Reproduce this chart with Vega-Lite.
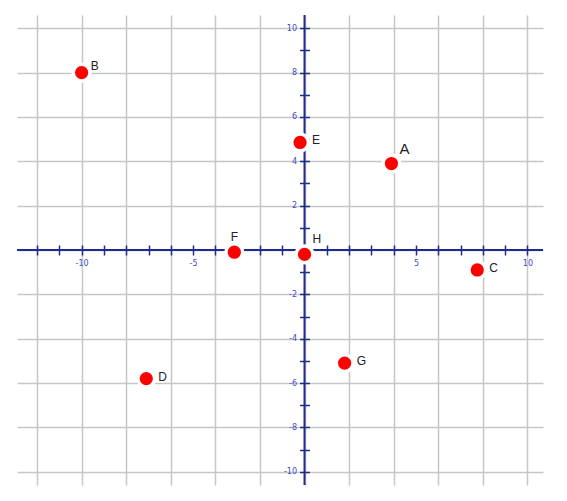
{
  "$schema": "https://vega.github.io/schema/vega-lite/v6.json",
  "width": 526,
  "height": 470,
  "autosize": {"type": "none"},
  "padding": {"left": 17, "top": 15, "right": 24, "bottom": 16},
  "background": "white",
  "config": {
    "view": {"stroke": null},
    "axis": {"title": null, "labelFont": "DejaVu Sans", "labelFontSize": 8, "labelColor": "#3a4cc4"}
  },
  "data": {
    "values": [
      {"label": "A", "x": 3.9, "y": 3.9},
      {"label": "B", "x": -10, "y": 8},
      {"label": "C", "x": 7.75, "y": -0.9},
      {"label": "D", "x": -7.1, "y": -5.8},
      {"label": "E", "x": -0.2, "y": 4.85},
      {"label": "F", "x": -3.15, "y": -0.1},
      {"label": "G", "x": 1.8, "y": -5.1},
      {"label": "H", "x": 0, "y": -0.2}
    ]
  },
  "layer": [
    {
      "data": {"values": [{}]},
      "mark": {"type": "rule", "color": "#1f2b8e", "strokeWidth": 2},
      "encoding": {
        "y": {
          "datum": 0, "type": "quantitative",
          "scale": {"domain": [-10.6, 10.6], "nice": false, "zero": false},
          "axis": {"orient": "left", "grid": true, "values": [-10, -8, -6, -4, -2, 0, 2, 4, 6, 8, 10], "labels": false, "ticks": false, "domain": false, "gridColor": "#c6c6c6", "gridWidth": 1.5}
        }
      }
    },
    {
      "data": {"values": [{}]},
      "mark": {"type": "rule", "color": "#1f2b8e", "strokeWidth": 2},
      "encoding": {
        "x": {
          "datum": 0, "type": "quantitative",
          "scale": {"domain": [-12.9, 10.7], "nice": false, "zero": false},
          "axis": {"orient": "bottom", "grid": true, "values": [-12, -10, -8, -6, -4, -2, 0, 2, 4, 6, 8, 10], "labels": false, "ticks": false, "domain": false, "gridColor": "#c6c6c6", "gridWidth": 1.5}
        }
      }
    },
    {
      "mark": {"type": "circle", "color": "#ff0000", "opacity": 1, "stroke": "white", "strokeWidth": 3.5, "size": 280},
      "encoding": {
        "x": {
          "field": "x", "type": "quantitative",
          "scale": {"domain": [-12.9, 10.7], "nice": false, "zero": false},
          "axis": {
            "orient": "bottom", "offset": -235, "grid": false, "domain": false,
            "values": [-12, -11, -10, -9, -8, -7, -6, -5, -4, -3, -2, -1, 0, 1, 2, 3, 4, 5, 6, 7, 8, 9, 10],
            "tickColor": "#1f2b8e", "tickSize": 5, "tickWidth": 1.5, "labelPadding": 4,
            "labelOverlap": false, "labelFlush": false,
            "labelExpr": "(datum.value % 5 === 0 && datum.value !== 0) ? (datum.value < 0 ? '-' + abs(datum.value) : '' + datum.value) : ''"
          }
        },
        "y": {
          "field": "y", "type": "quantitative",
          "scale": {"domain": [-10.6, 10.6], "nice": false, "zero": false},
          "axis": {
            "orient": "left", "offset": -287.5, "grid": false, "domain": false,
            "values": [-10, -9, -8, -7, -6, -5, -4, -3, -2, -1, 0, 1, 2, 3, 4, 5, 6, 7, 8, 9, 10],
            "tickColor": "#1f2b8e", "tickSize": 5, "tickWidth": 1.5, "labelPadding": 3,
            "labelOverlap": false, "labelFlush": false,
            "labelExpr": "(datum.value % 2 === 0 && datum.value !== 0) ? (datum.value < 0 ? '-' + abs(datum.value) : '' + datum.value) : ''"
          }
        }
      }
    },
    {
      "transform": [{"filter": "indexof(['C','D','E','G'], datum.label) >= 0"}],
      "mark": {"type": "text", "align": "left", "baseline": "middle", "dx": 12, "dy": -2, "font": "Liberation Sans", "fontSize": 12, "color": "#222222"},
      "encoding": {
        "x": {
          "field": "x", "type": "quantitative",
          "scale": {"domain": [-12.9, 10.7], "nice": false, "zero": false},
          "axis": {
            "orient": "top", "offset": -235, "grid": false, "domain": false, "labels": false,
            "values": [-12, -11, -10, -9, -8, -7, -6, -5, -4, -3, -2, -1, 0, 1, 2, 3, 4, 5, 6, 7, 8, 9, 10],
            "tickColor": "#1f2b8e", "tickSize": 5, "tickWidth": 1.5
          }
        },
        "y": {
          "field": "y", "type": "quantitative",
          "scale": {"domain": [-10.6, 10.6], "nice": false, "zero": false},
          "axis": {
            "orient": "right", "offset": -238.5, "grid": false, "domain": false, "labels": false,
            "values": [-10, -9, -8, -7, -6, -5, -4, -3, -2, -1, 0, 1, 2, 3, 4, 5, 6, 7, 8, 9, 10],
            "tickColor": "#1f2b8e", "tickSize": 5, "tickWidth": 1.5
          }
        },
        "text": {"field": "label"}
      }
    },
    {
      "transform": [{"filter": "datum.label === 'B'"}],
      "mark": {"type": "text", "align": "left", "baseline": "middle", "dx": 9, "dy": -7, "font": "Liberation Sans", "fontSize": 12, "color": "#222222"},
      "encoding": {
        "x": {"field": "x", "type": "quantitative", "scale": {"domain": [-12.9, 10.7], "nice": false, "zero": false}, "axis": null},
        "y": {"field": "y", "type": "quantitative", "scale": {"domain": [-10.6, 10.6], "nice": false, "zero": false}, "axis": null},
        "text": {"field": "label"}
      }
    },
    {
      "transform": [{"filter": "datum.label === 'A' || datum.label === 'H'"}],
      "mark": {"type": "text", "align": "left", "baseline": "middle", "dx": 8, "dy": -15, "font": "Liberation Sans", "color": "#222222"},
      "encoding": {
        "x": {"field": "x", "type": "quantitative", "scale": {"domain": [-12.9, 10.7], "nice": false, "zero": false}, "axis": null},
        "y": {"field": "y", "type": "quantitative", "scale": {"domain": [-10.6, 10.6], "nice": false, "zero": false}, "axis": null},
        "text": {"field": "label"},
        "size": {"condition": {"test": "datum.label === 'A'", "value": 15}, "value": 12}
      }
    },
    {
      "transform": [{"filter": "datum.label === 'F'"}],
      "mark": {"type": "text", "align": "center", "baseline": "middle", "dx": 0, "dy": -15, "font": "Liberation Sans", "fontSize": 12, "color": "#222222"},
      "encoding": {
        "x": {"field": "x", "type": "quantitative", "scale": {"domain": [-12.9, 10.7], "nice": false, "zero": false}, "axis": null},
        "y": {"field": "y", "type": "quantitative", "scale": {"domain": [-10.6, 10.6], "nice": false, "zero": false}, "axis": null},
        "text": {"field": "label"}
      }
    }
  ],
  "resolve": {"axis": {"x": "independent", "y": "independent"}}
}
